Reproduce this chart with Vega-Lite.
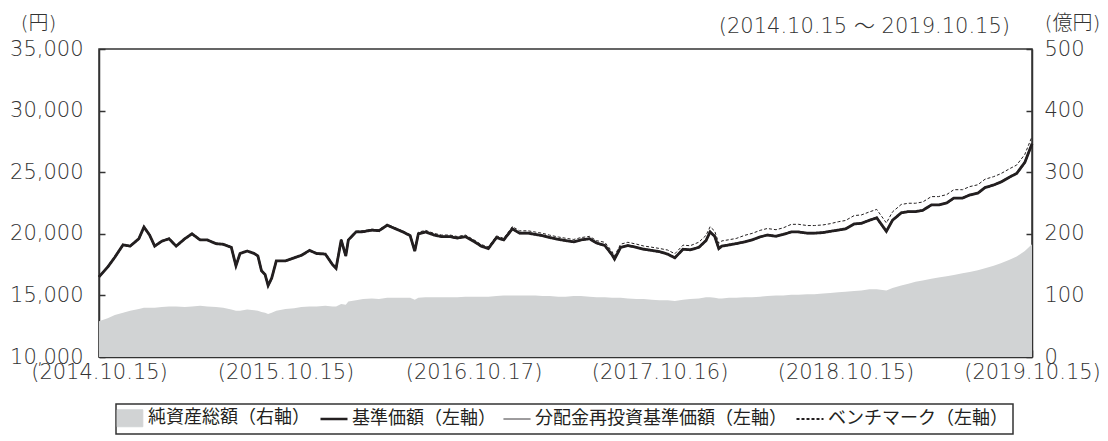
{
  "$schema": "https://vega.github.io/schema/vega-lite/v6.json",
  "width": 933,
  "height": 308,
  "autosize": {"type": "none"},
  "padding": {"left": 99, "top": 49, "right": 76, "bottom": 84},
  "background": "white",
  "config": {
    "font": "DejaVu Sans",
    "view": {"stroke": "#333333", "strokeWidth": 1.5},
    "axis": {"domainColor": "#333333", "domainWidth": 1.5, "tickColor": "#333333", "tickWidth": 1.5, "labelColor": "#333333", "labelFont": "DejaVu Sans", "labelFontSize": 21, "labelFontWeight": 200, "grid": false, "titleColor": "#333333", "titleFont": "DejaVu Sans, Noto Sans CJK JP", "titleFontWeight": 200, "titleFontSize": 20}
  },
  "title": {"text": "(2014.10.15 〜 2019.10.15)", "anchor": "end", "frame": "group", "dx": -22, "dy": 24, "font": "DejaVu Sans, Noto Sans CJK JP", "fontSize": 21, "fontWeight": 200, "color": "#333333", "offset": 0},
  "data": {"values": [
    {"date": "2014-10-15", "nav": 16500, "reinv": 16500, "bench": 16500, "assets": 58},
    {"date": "2014-11-01", "nav": 17300, "reinv": 17300, "bench": 17300, "assets": 63},
    {"date": "2014-11-15", "nav": 18100, "reinv": 18100, "bench": 18100, "assets": 68},
    {"date": "2014-12-01", "nav": 19100, "reinv": 19100, "bench": 19100, "assets": 72},
    {"date": "2014-12-15", "nav": 19000, "reinv": 19000, "bench": 19000, "assets": 75},
    {"date": "2015-01-01", "nav": 19600, "reinv": 19600, "bench": 19600, "assets": 78},
    {"date": "2015-01-11", "nav": 20550, "reinv": 20550, "bench": 20550, "assets": 80},
    {"date": "2015-01-22", "nav": 19900, "reinv": 19900, "bench": 19900, "assets": 80},
    {"date": "2015-02-01", "nav": 19000, "reinv": 19000, "bench": 19000, "assets": 80},
    {"date": "2015-02-15", "nav": 19400, "reinv": 19400, "bench": 19400, "assets": 81},
    {"date": "2015-03-01", "nav": 19600, "reinv": 19600, "bench": 19600, "assets": 82},
    {"date": "2015-03-15", "nav": 19000, "reinv": 19000, "bench": 19000, "assets": 82},
    {"date": "2015-04-01", "nav": 19600, "reinv": 19600, "bench": 19600, "assets": 81},
    {"date": "2015-04-15", "nav": 20000, "reinv": 20000, "bench": 20000, "assets": 82},
    {"date": "2015-05-01", "nav": 19500, "reinv": 19500, "bench": 19500, "assets": 83},
    {"date": "2015-05-15", "nav": 19500, "reinv": 19500, "bench": 19500, "assets": 82},
    {"date": "2015-06-01", "nav": 19200, "reinv": 19200, "bench": 19200, "assets": 81},
    {"date": "2015-06-15", "nav": 19150, "reinv": 19150, "bench": 19150, "assets": 80},
    {"date": "2015-07-01", "nav": 18900, "reinv": 18900, "bench": 18930, "assets": 77},
    {"date": "2015-07-10", "nav": 17400, "reinv": 17400, "bench": 17430, "assets": 75},
    {"date": "2015-07-18", "nav": 18400, "reinv": 18400, "bench": 18430, "assets": 75},
    {"date": "2015-08-01", "nav": 18600, "reinv": 18600, "bench": 18630, "assets": 77},
    {"date": "2015-08-15", "nav": 18400, "reinv": 18400, "bench": 18430, "assets": 76},
    {"date": "2015-08-22", "nav": 18200, "reinv": 18200, "bench": 18230, "assets": 75},
    {"date": "2015-08-29", "nav": 17000, "reinv": 17000, "bench": 17030, "assets": 73},
    {"date": "2015-09-05", "nav": 16700, "reinv": 16700, "bench": 16730, "assets": 72},
    {"date": "2015-09-11", "nav": 15800, "reinv": 15800, "bench": 15830, "assets": 70},
    {"date": "2015-09-18", "nav": 16400, "reinv": 16400, "bench": 16430, "assets": 72},
    {"date": "2015-09-27", "nav": 17800, "reinv": 17800, "bench": 17830, "assets": 75},
    {"date": "2015-10-15", "nav": 17800, "reinv": 17800, "bench": 17830, "assets": 78},
    {"date": "2015-11-01", "nav": 18050, "reinv": 18050, "bench": 18080, "assets": 79},
    {"date": "2015-11-15", "nav": 18250, "reinv": 18250, "bench": 18280, "assets": 81},
    {"date": "2015-12-01", "nav": 18650, "reinv": 18650, "bench": 18680, "assets": 82},
    {"date": "2015-12-15", "nav": 18400, "reinv": 18400, "bench": 18430, "assets": 82},
    {"date": "2016-01-01", "nav": 18350, "reinv": 18350, "bench": 18420, "assets": 83},
    {"date": "2016-01-15", "nav": 17500, "reinv": 17500, "bench": 17570, "assets": 82},
    {"date": "2016-01-22", "nav": 17200, "reinv": 17200, "bench": 17270, "assets": 82},
    {"date": "2016-02-01", "nav": 19500, "reinv": 19500, "bench": 19570, "assets": 86},
    {"date": "2016-02-10", "nav": 18200, "reinv": 18200, "bench": 18270, "assets": 85},
    {"date": "2016-02-15", "nav": 19500, "reinv": 19500, "bench": 19570, "assets": 90},
    {"date": "2016-03-01", "nav": 20150, "reinv": 20150, "bench": 20220, "assets": 92},
    {"date": "2016-03-15", "nav": 20170, "reinv": 20170, "bench": 20240, "assets": 94},
    {"date": "2016-04-01", "nav": 20300, "reinv": 20300, "bench": 20370, "assets": 95},
    {"date": "2016-04-15", "nav": 20250, "reinv": 20250, "bench": 20320, "assets": 94},
    {"date": "2016-05-01", "nav": 20700, "reinv": 20700, "bench": 20770, "assets": 96},
    {"date": "2016-05-15", "nav": 20450, "reinv": 20450, "bench": 20520, "assets": 96},
    {"date": "2016-06-01", "nav": 20150, "reinv": 20150, "bench": 20220, "assets": 96},
    {"date": "2016-06-15", "nav": 19850, "reinv": 19850, "bench": 19920, "assets": 96},
    {"date": "2016-06-24", "nav": 18600, "reinv": 18600, "bench": 18670, "assets": 93},
    {"date": "2016-07-01", "nav": 20000, "reinv": 20000, "bench": 20130, "assets": 96},
    {"date": "2016-07-15", "nav": 20150, "reinv": 20150, "bench": 20280, "assets": 97},
    {"date": "2016-08-01", "nav": 19900, "reinv": 19900, "bench": 20030, "assets": 97},
    {"date": "2016-08-15", "nav": 19770, "reinv": 19770, "bench": 19900, "assets": 97},
    {"date": "2016-09-01", "nav": 19770, "reinv": 19770, "bench": 19900, "assets": 97},
    {"date": "2016-09-15", "nav": 19650, "reinv": 19650, "bench": 19780, "assets": 97},
    {"date": "2016-10-01", "nav": 19770, "reinv": 19770, "bench": 19900, "assets": 98},
    {"date": "2016-10-17", "nav": 19400, "reinv": 19400, "bench": 19530, "assets": 98},
    {"date": "2016-11-01", "nav": 19000, "reinv": 19000, "bench": 19130, "assets": 98},
    {"date": "2016-11-15", "nav": 18800, "reinv": 18800, "bench": 18930, "assets": 98},
    {"date": "2016-12-01", "nav": 19700, "reinv": 19700, "bench": 19830, "assets": 99},
    {"date": "2016-12-15", "nav": 19500, "reinv": 19500, "bench": 19630, "assets": 100},
    {"date": "2017-01-01", "nav": 20400, "reinv": 20400, "bench": 20590, "assets": 100},
    {"date": "2017-01-15", "nav": 20050, "reinv": 20050, "bench": 20240, "assets": 100},
    {"date": "2017-02-01", "nav": 20050, "reinv": 20050, "bench": 20240, "assets": 100},
    {"date": "2017-02-15", "nav": 19950, "reinv": 19950, "bench": 20140, "assets": 100},
    {"date": "2017-03-01", "nav": 19850, "reinv": 19850, "bench": 20040, "assets": 99},
    {"date": "2017-03-15", "nav": 19700, "reinv": 19700, "bench": 19890, "assets": 99},
    {"date": "2017-04-01", "nav": 19550, "reinv": 19550, "bench": 19740, "assets": 98},
    {"date": "2017-04-15", "nav": 19450, "reinv": 19450, "bench": 19640, "assets": 98},
    {"date": "2017-05-01", "nav": 19350, "reinv": 19350, "bench": 19540, "assets": 99},
    {"date": "2017-05-15", "nav": 19500, "reinv": 19500, "bench": 19690, "assets": 99},
    {"date": "2017-06-01", "nav": 19600, "reinv": 19600, "bench": 19790, "assets": 98},
    {"date": "2017-06-15", "nav": 19250, "reinv": 19250, "bench": 19440, "assets": 97},
    {"date": "2017-07-01", "nav": 19050, "reinv": 19050, "bench": 19310, "assets": 97},
    {"date": "2017-07-15", "nav": 18300, "reinv": 18300, "bench": 18560, "assets": 96},
    {"date": "2017-07-20", "nav": 17950, "reinv": 17950, "bench": 18210, "assets": 96},
    {"date": "2017-08-01", "nav": 18900, "reinv": 18900, "bench": 19160, "assets": 96},
    {"date": "2017-08-15", "nav": 19050, "reinv": 19050, "bench": 19310, "assets": 95},
    {"date": "2017-09-01", "nav": 18900, "reinv": 18900, "bench": 19160, "assets": 94},
    {"date": "2017-09-15", "nav": 18750, "reinv": 18750, "bench": 19010, "assets": 94},
    {"date": "2017-10-01", "nav": 18650, "reinv": 18650, "bench": 18910, "assets": 93},
    {"date": "2017-10-16", "nav": 18550, "reinv": 18550, "bench": 18810, "assets": 92},
    {"date": "2017-11-01", "nav": 18350, "reinv": 18350, "bench": 18680, "assets": 92},
    {"date": "2017-11-15", "nav": 18050, "reinv": 18050, "bench": 18380, "assets": 91},
    {"date": "2017-12-01", "nav": 18750, "reinv": 18750, "bench": 19080, "assets": 93},
    {"date": "2017-12-15", "nav": 18700, "reinv": 18700, "bench": 19030, "assets": 94},
    {"date": "2018-01-01", "nav": 18900, "reinv": 18900, "bench": 19320, "assets": 95},
    {"date": "2018-01-15", "nav": 19450, "reinv": 19450, "bench": 19870, "assets": 97},
    {"date": "2018-01-23", "nav": 20150, "reinv": 20150, "bench": 20570, "assets": 97},
    {"date": "2018-02-01", "nav": 19800, "reinv": 19800, "bench": 20220, "assets": 96},
    {"date": "2018-02-09", "nav": 18800, "reinv": 18800, "bench": 19220, "assets": 95},
    {"date": "2018-02-15", "nav": 19000, "reinv": 19000, "bench": 19420, "assets": 95},
    {"date": "2018-03-01", "nav": 19100, "reinv": 19100, "bench": 19520, "assets": 96},
    {"date": "2018-03-15", "nav": 19200, "reinv": 19200, "bench": 19620, "assets": 96},
    {"date": "2018-04-01", "nav": 19350, "reinv": 19350, "bench": 19880, "assets": 97},
    {"date": "2018-04-15", "nav": 19500, "reinv": 19500, "bench": 20030, "assets": 97},
    {"date": "2018-05-01", "nav": 19750, "reinv": 19750, "bench": 20280, "assets": 98},
    {"date": "2018-05-15", "nav": 19900, "reinv": 19900, "bench": 20430, "assets": 99},
    {"date": "2018-06-01", "nav": 19800, "reinv": 19800, "bench": 20330, "assets": 100},
    {"date": "2018-06-15", "nav": 19950, "reinv": 19950, "bench": 20480, "assets": 100},
    {"date": "2018-07-01", "nav": 20150, "reinv": 20150, "bench": 20770, "assets": 101},
    {"date": "2018-07-15", "nav": 20150, "reinv": 20150, "bench": 20770, "assets": 101},
    {"date": "2018-08-01", "nav": 20050, "reinv": 20050, "bench": 20670, "assets": 102},
    {"date": "2018-08-15", "nav": 20050, "reinv": 20050, "bench": 20670, "assets": 102},
    {"date": "2018-09-01", "nav": 20100, "reinv": 20100, "bench": 20720, "assets": 103},
    {"date": "2018-09-15", "nav": 20200, "reinv": 20200, "bench": 20820, "assets": 104},
    {"date": "2018-10-01", "nav": 20300, "reinv": 20300, "bench": 20980, "assets": 105},
    {"date": "2018-10-15", "nav": 20400, "reinv": 20400, "bench": 21080, "assets": 106},
    {"date": "2018-11-01", "nav": 20800, "reinv": 20800, "bench": 21480, "assets": 107},
    {"date": "2018-11-15", "nav": 20850, "reinv": 20850, "bench": 21530, "assets": 108},
    {"date": "2018-12-01", "nav": 21100, "reinv": 21100, "bench": 21780, "assets": 110},
    {"date": "2018-12-15", "nav": 21300, "reinv": 21300, "bench": 21980, "assets": 110},
    {"date": "2019-01-03", "nav": 20200, "reinv": 20200, "bench": 20880, "assets": 108},
    {"date": "2019-01-15", "nav": 21100, "reinv": 21100, "bench": 21780, "assets": 112},
    {"date": "2019-02-01", "nav": 21700, "reinv": 21700, "bench": 22380, "assets": 116},
    {"date": "2019-02-15", "nav": 21800, "reinv": 21800, "bench": 22480, "assets": 119},
    {"date": "2019-03-01", "nav": 21800, "reinv": 21800, "bench": 22480, "assets": 122},
    {"date": "2019-03-15", "nav": 21900, "reinv": 21900, "bench": 22580, "assets": 124},
    {"date": "2019-04-01", "nav": 22340, "reinv": 22340, "bench": 23020, "assets": 127},
    {"date": "2019-04-15", "nav": 22340, "reinv": 22340, "bench": 23020, "assets": 129},
    {"date": "2019-05-01", "nav": 22500, "reinv": 22500, "bench": 23180, "assets": 131},
    {"date": "2019-05-15", "nav": 22900, "reinv": 22900, "bench": 23580, "assets": 133},
    {"date": "2019-06-01", "nav": 22900, "reinv": 22900, "bench": 23580, "assets": 136},
    {"date": "2019-06-15", "nav": 23150, "reinv": 23150, "bench": 23830, "assets": 138},
    {"date": "2019-07-01", "nav": 23300, "reinv": 23300, "bench": 23980, "assets": 141},
    {"date": "2019-07-15", "nav": 23750, "reinv": 23750, "bench": 24430, "assets": 144},
    {"date": "2019-08-01", "nav": 23960, "reinv": 23960, "bench": 24640, "assets": 148},
    {"date": "2019-08-15", "nav": 24200, "reinv": 24200, "bench": 24880, "assets": 152},
    {"date": "2019-09-01", "nav": 24600, "reinv": 24600, "bench": 25280, "assets": 158},
    {"date": "2019-09-15", "nav": 24900, "reinv": 24900, "bench": 25580, "assets": 163},
    {"date": "2019-10-01", "nav": 25800, "reinv": 25800, "bench": 26450, "assets": 172},
    {"date": "2019-10-15", "nav": 27300, "reinv": 27300, "bench": 27900, "assets": 183}
  ]},
  "encoding": {
    "x": {
      "field": "date", "type": "temporal",
      "scale": {"type": "utc", "domain": [{"year": 2014, "month": 10, "date": 15, "utc": true}, {"year": 2019, "month": 10, "date": 15, "utc": true}]},
      "axis": {
        "title": null,
        "values": [
          {"year": 2014, "month": 10, "date": 15, "utc": true},
          {"year": 2015, "month": 10, "date": 15, "utc": true},
          {"year": 2016, "month": 10, "date": 17, "utc": true},
          {"year": 2017, "month": 10, "date": 16, "utc": true},
          {"year": 2018, "month": 10, "date": 15, "utc": true},
          {"year": 2019, "month": 10, "date": 15, "utc": true}
        ],
        "labelExpr": "'(' + utcFormat(datum.value, '%Y.%m.%d') + ')'",
        "tickSize": -7,
        "labelPadding": 11,
        "labelFlush": false,
        "labelOverlap": false,
        "labelBaseline": "top"
      }
    }
  },
  "layer": [
    {
      "transform": [{"fold": ["assets"], "as": ["series", "value"]}],
      "mark": {"type": "area", "color": "#d1d3d4", "opacity": 1},
      "encoding": {
        "y": {
          "field": "value", "type": "quantitative",
          "scale": {"domain": [0, 500], "nice": false, "zero": true},
          "axis": {"orient": "right", "values": [0, 100, 200, 300, 400, 500], "tickSize": -6, "labelPadding": 18, "title": "(億円)", "titleAngle": 0, "titleX": 40, "titleY": -20, "titleAlign": "center", "titleBaseline": "alphabetic"}
        }
      }
    },
    {
      "transform": [{"fold": ["nav", "reinv", "bench"], "as": ["series", "value"]}],
      "mark": {"type": "line"},
      "encoding": {
        "y": {
          "field": "value", "type": "quantitative",
          "scale": {"domain": [10000, 35000], "nice": false, "zero": false},
          "axis": {"orient": "left", "values": [10000, 15000, 20000, 25000, 30000, 35000], "format": ",.0f", "tickSize": -6, "labelPadding": 22, "title": "(円)", "titleAngle": 0, "titleX": -61, "titleY": -20, "titleAlign": "center", "titleBaseline": "alphabetic"}
        },
        "color": {
          "field": "series", "type": "nominal",
          "scale": {"domain": ["assets", "nav", "reinv", "bench"], "range": ["#d1d3d4", "#231f20", "#231f20", "#231f20"]},
          "legend": {
            "orient": "none", "legendX": 17, "legendY": 355,
            "direction": "horizontal", "columns": 4, "title": null,
            "labelFont": "Noto Sans CJK JP",
            "labelFontSize": 18, "labelColor": "#231f20", "labelLimit": 400, "labelOffset": 9,
            "columnPadding": 5, "padding": 5, "strokeColor": "#333333", "symbolSize": 729,
            "labelExpr": "{'assets': '純資産総額（右軸）', 'nav': '基準価額（左軸）', 'reinv': '分配金再投資基準価額（左軸）', 'bench': 'ベンチマーク（左軸）'}[datum.label]",
            "encode": {
              "symbols": {"update": {
                "shape": {"signal": "datum.value === 'assets' ? 'M-0.95,-0.63H0.95V0.63H-0.95Z' : 'stroke'"},
                "fill": {"signal": "datum.value === 'assets' ? '#d1d3d4' : 'transparent'"},
                "stroke": {"signal": "datum.value === 'assets' ? 'transparent' : '#231f20'"},
                "strokeWidth": {"signal": "datum.value === 'nav' ? 2.5 : (datum.value === 'bench' ? 2 : 1)"},
                "strokeDash": {"signal": "datum.value === 'bench' ? [3, 2] : [1, 0]"},
                "size": {"value": 729},
                "opacity": {"value": 1}
              }},
              "legend": {"update": {"strokeWidth": {"value": 1.5}}}
            }
          }
        },
        "strokeWidth": {"field": "series", "type": "nominal", "scale": {"domain": ["nav", "reinv", "bench"], "range": [2.8, 1, 1.6]}, "legend": null},
        "strokeDash": {"field": "series", "type": "nominal", "scale": {"domain": ["nav", "reinv", "bench"], "range": [[1, 0], [1, 0], [3, 2]]}, "legend": null}
      }
    }
  ],
  "resolve": {"scale": {"y": "independent"}}
}
